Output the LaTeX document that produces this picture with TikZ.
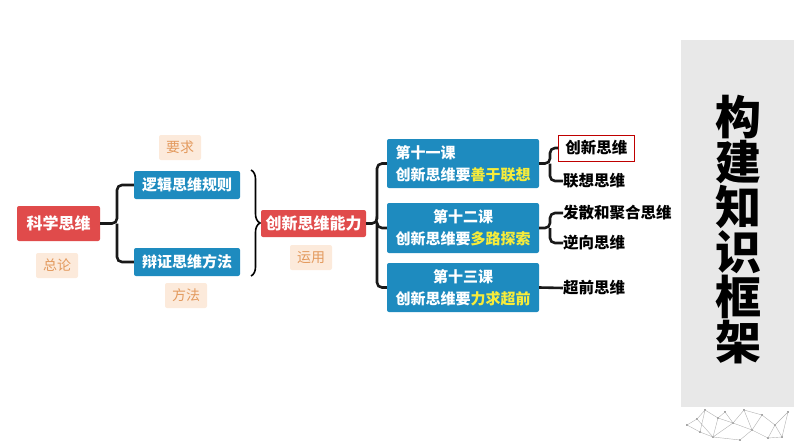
\documentclass[tikz,border=0pt]{standalone}
\usepackage{fontspec}
\setmainfont{Noto Sans CJK SC}
\usetikzlibrary{decorations.pathreplacing}
\definecolor{redbox}{HTML}{E04B4B}
\definecolor{bluebox}{HTML}{1E8BBF}
\definecolor{peach}{HTML}{FCEADB}
\definecolor{peachtext}{HTML}{E39A5E}
\definecolor{keyword}{HTML}{F7EC3A}
\definecolor{panel}{HTML}{E8E8E8}
\begin{document}
\begin{tikzpicture}[
    x=1pt, y=-1pt,
    redbox/.style={rectangle, fill=redbox, text=white, font=\bfseries\fontsize{16}{18}\selectfont, rounded corners=2pt, inner sep=0pt},
    bluebox/.style={rectangle, fill=bluebox, text=white, font=\bfseries\fontsize{15}{22}\selectfont, rounded corners=2pt, inner sep=0pt},
    tag/.style={rectangle, fill=peach, text=peachtext, font=\fontsize{14}{16}\selectfont, rounded corners=2pt, minimum width=42pt, minimum height=25pt, inner sep=0pt},
    leaf/.style={anchor=west, font=\bfseries\fontsize{15.5}{17}\selectfont, inner sep=0pt},
    link/.style={draw=black!90, line width=2.6pt, rounded corners=5pt},
    hi/.style={text=keyword}
]
    \useasboundingbox (0,0) rectangle (794,447);

    % Side panel
    \fill[panel] (681,40) rectangle (794,407);
    \node[font=\bfseries\fontsize{46}{45}\selectfont, align=center] (title) at (738,230) {构\\建\\知\\识\\框\\架};

    % Network decoration
    \foreach \p/\q in {687/425, 697/419, 713/437, 700/432, 718/418, 733/423, 744/410, 752/430, 762/415, 775/425, 788/412, 782/437, 740/440, 725/412, 705/410, 768/438}
        \fill[black!70] (\p,\q) circle (0.9pt);
    \draw[black!30, line width=0.4pt]
        (687,425) -- (697,419) -- (713,437) -- (700,432) -- (687,425)
        (697,419) -- (705,410) -- (718,418) -- (713,437) -- (733,423) -- (718,418)
        (725,412) -- (733,423) -- (744,410) -- (752,430) -- (733,423)
        (713,437) -- (740,440) -- (752,430) -- (762,415) -- (744,410)
        (752,430) -- (768,438) -- (775,425) -- (762,415)
        (775,425) -- (788,412) -- (782,437) -- (768,438)
        (705,410) -- (700,432) (725,412) -- (718,418) (782,437) -- (775,425);

    % Left part
    \node[redbox, minimum width=83pt, minimum height=35pt] (kexue) at (58.5,223.5) {科学思维};
    \node[tag] (zonglun) at (57,265.5) {总论};
    \node[bluebox, minimum width=106pt, minimum height=28pt] (luoji) at (187,185) {逻辑思维规则};
    \node[bluebox, minimum width=106pt, minimum height=28pt] (bianzheng) at (187,262) {辩证思维方法};
    \node[tag] (yaoqiu) at (180,147.5) {要求};
    \node[tag] (fangfa) at (186,295.5) {方法};

    \coordinate (fork1) at (117,223.5);
    \draw[link] (kexue.east) -- (fork1) |- (luoji.west);
    \draw[link] (fork1) |- (bianzheng.west);

    % Brace
    \draw[line width=1.6pt, decorate, decoration={brace, amplitude=9pt}] (251,170) -- (251,276);

    % Middle part
    \node[redbox, minimum width=105pt, minimum height=27pt] (nengli) at (313.5,223.5) {创新思维能力};
    \node[tag] (yunyong) at (311,257.5) {运用};

    \node[bluebox, minimum width=152pt, minimum height=49pt, align=left] (ke11) at (463,163.5) {第十一课\\创新思维要{\color{keyword}善于联想}};
    \node[bluebox, minimum width=152pt, minimum height=50pt, align=center] (ke12) at (463,228) {第十二课\\创新思维要{\color{keyword}多路探索}};
    \node[bluebox, minimum width=152pt, minimum height=49pt, align=center] (ke13) at (463,287.5) {第十三课\\创新思维要{\color{keyword}力求超前}};

    \coordinate (fork2) at (377,223.5);
    \draw[link] (nengli.east) -- (fork2) |- (ke11.west);
    \draw[link] (fork2) |- (ke12.west);
    \draw[link] (fork2) |- (ke13.west);

    % Right part
    \node[leaf, draw=red!75!black, line width=0.8pt, inner xsep=7pt, minimum height=26pt] (chuangxin) at (558,148) {创新思维};
    \node[leaf] (lianxiang) at (563,181) {联想思维};
    \node[leaf] (fasan) at (563,213) {发散和聚合思维};
    \node[leaf] (nixiang) at (563,243) {逆向思维};
    \node[leaf] (chaoqian) at (563,288) {超前思维};

    \coordinate (fork3) at (550,163.5);
    \coordinate (fork4) at (550,228);
    \draw[link] (ke11.east) -- (fork3) |- (chuangxin.west);
    \draw[link] (fork3) |- (lianxiang.west);
    \draw[link] (ke12.east) -- (fork4) |- (fasan.west);
    \draw[link] (fork4) |- (nixiang.west);
    \draw[link] (ke13.east) -- (chaoqian.west);
\end{tikzpicture}
\end{document}
